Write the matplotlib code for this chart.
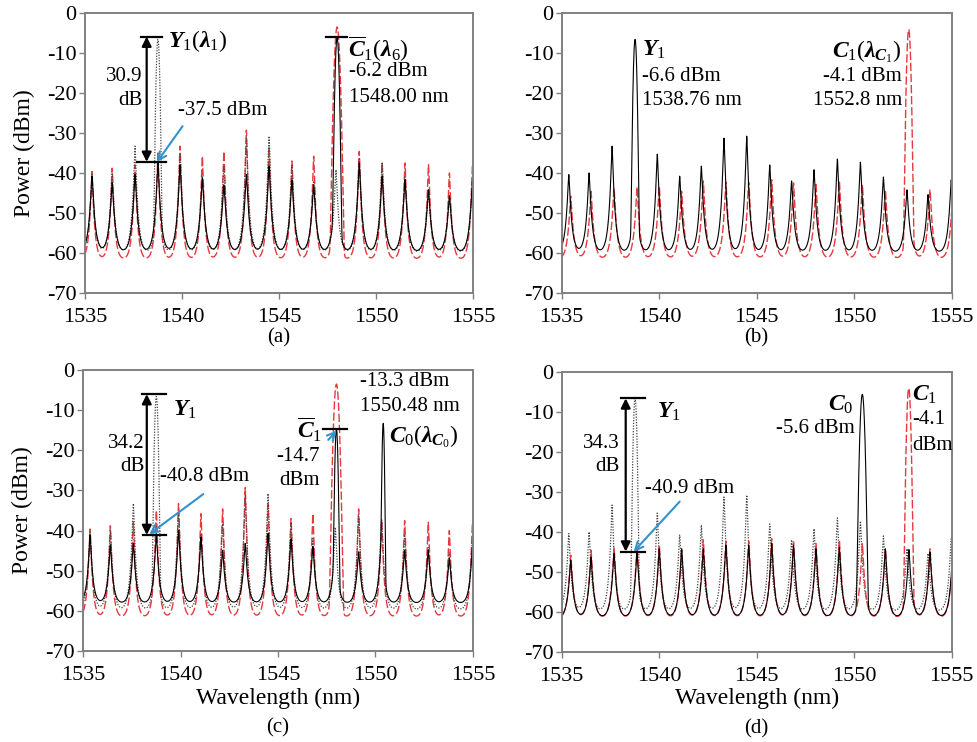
import numpy as np
import matplotlib
matplotlib.use('Agg')
import matplotlib.pyplot as plt

plt.rcParams['font.family'] = ['Liberation Serif', 'DejaVu Serif']
plt.rcParams['mathtext.fontset'] = 'custom'
plt.rcParams['mathtext.rm'] = 'Liberation Serif'
plt.rcParams['mathtext.it'] = 'Liberation Serif:italic:bold'
plt.rcParams['mathtext.bf'] = 'Liberation Serif:bold'
plt.rcParams['axes.unicode_minus'] = False

# mode comb of the Y1 spectrum (nm)
y1_wl = [1535.36, 1536.40, 1537.58, 1538.76, 1539.90, 1541.05, 1542.16, 1543.32, 1544.49,
         1545.67, 1546.79, 1547.94, 1549.14, 1550.32, 1551.50, 1552.71, 1553.79, 1554.98]
c1_shift = 0.10  # C1 comb sits a little to the right

# peak power of each cavity mode (dBm)
y1_modes = [-40.4, -40.0, -33.3, -43.0, -35.3, -40.8, -38.3, -31.3, -30.8,
            -38.0, -42.0, -39.2, -36.5, -37.3, -41.0, -44.2, -45.4, -41.7]
c1_modes = [-45.8, -44.6, -43.8, -43.5, -43.3, -44.6, -42.0, -42.3, -42.3,
            -41.7, -42.5, -42.9, -42.0, -42.9, -44.2, -44.0, -44.2, -43.0]
pump_a_modes = [-39.6, -38.8, -38.0, -35.0, -33.3, -35.8, -34.6, -29.3, -33.5,
                -37.0, -35.8, -40.0, -34.6, -37.5, -37.5, -37.9, -40.0, -38.0]
out_a_modes = [-40.8, -42.5, -40.4, -37.5, -38.0, -41.3, -43.0, -40.4, -38.3,
               -41.7, -43.0, -40.0, -37.5, -40.8, -41.7, -44.2, -45.8, -42.0]
out_c_modes = [-41.1, -43.6, -43.2, -40.8, -40.0, -41.6, -44.9, -43.2, -40.7,
               -42.0, -44.0, -42.0, -45.3, -40.0, -44.9, -44.9, -47.0, -44.0]
out_d_modes = [-47.0, -46.3, -45.4, -45.0, -44.2, -44.2, -44.2, -43.3, -43.3,
               -42.9, -43.3, -44.2, -43.8, -44.0, -44.2, -44.4, -45.0, -43.0]

# lasing lines: (wavelength nm, peak dBm, linewidth nm)
y1_lines = [(1538.76, -6.6, 0.045)]
c1_lines = [(1552.80, -4.1, 0.052)]
pump_a_lines = [(1548.00, -3.5, 0.07)]
out_a_lines = [(1548.00, -6.2, 0.05)]
out_c_lines = [(1548.00, -14.7, 0.04), (1550.40, -13.3, 0.03)]
out_d_lines = [(1550.42, -5.6, 0.06)]

x = np.linspace(1535, 1555, 8001)


def spectrum(shift, modes, lines, s, floor):
    # cusp-shaped cavity modes in dB on a noise floor, lasing lines added on top
    db = np.full_like(x, floor)
    for c, p in zip(y1_wl, modes):
        d = np.sqrt((x - c - shift) ** 2 + 0.015 ** 2) - 0.015
        db += (p - floor) * np.exp(-d / s)
    lin = 10 ** (db / 10)
    for c, p, w in lines:
        lin += 10 ** (p / 10) * np.exp(-0.5 * ((x - c) / w) ** 2)
    return 10 * np.log10(lin)


y1 = spectrum(0.0, y1_modes, y1_lines, 0.15, -60.2)
c1 = spectrum(c1_shift, c1_modes, c1_lines, 0.15, -61.8)
pump_a = spectrum(0.0, pump_a_modes, pump_a_lines, 0.13, -61.8)
out_a = spectrum(0.0, out_a_modes, out_a_lines, 0.16, -60.2)
out_c = spectrum(0.0, out_c_modes, out_c_lines, 0.14, -58.3)
out_d = spectrum(c1_shift, out_d_modes, out_d_lines, 0.15, -61.6)

RED = '#e8383d'
BLUE = '#2f93cc'
dot = dict(color='#444444', lw=0.9, ls=(0, (1, 1.2)))
dash = dict(color=RED, lw=1.0, ls=(0, (6, 2)))
solid = dict(color='black', lw=0.8)
FS = 15


def setup(ax, tag, bottom_row=False, ylabel=False):
    ax.set_xlim(1535, 1555)
    ax.set_ylim(-70, 0)
    ax.set_xticks(range(1535, 1556, 5))
    ax.set_yticks(range(-70, 1, 10))
    ax.tick_params(direction='out', length=4, width=1, color='#808080', labelsize=16)
    ax.tick_params(axis='x', pad=7)
    ax.tick_params(axis='y', pad=2)
    for s in ax.spines.values():
        s.set_color('#808080')
        s.set_linewidth(1.4)
    if ylabel:
        ax.text(-0.155, 0.5, 'Power (dBm)', transform=ax.transAxes, rotation=90,
                ha='center', va='center', fontsize=17)
    if bottom_row:
        ax.text(0.5, -0.167, 'Wavelength (nm)', transform=ax.transAxes,
                ha='center', va='center', fontsize=17)
        ax.text(0.5, -0.274, tag, transform=ax.transAxes, ha='center', va='center', fontsize=15)
    else:
        ax.text(0.5, -0.16, tag, transform=ax.transAxes, ha='center', va='center', fontsize=15)


def gap_arrow(ax, xa, top, bot, tx0, tx1, bx0, bx1):
    ax.plot([tx0, tx1], [top, top], color='black', lw=1.6)
    ax.plot([bx0, bx1], [bot, bot], color='black', lw=1.6)
    ax.annotate('', xy=(xa, bot), xytext=(xa, top),
                arrowprops=dict(arrowstyle='<|-|>', color='black', lw=1.6,
                                mutation_scale=14, shrinkA=0, shrinkB=0))


def blue_arrow(ax, start, end):
    ax.annotate('', xy=end, xytext=start,
                arrowprops=dict(arrowstyle='->', color=BLUE, lw=1.5,
                                mutation_scale=14, shrinkA=0, shrinkB=0))


fig = plt.figure(figsize=(9.77, 7.42), dpi=100)
ax_a = fig.add_axes([0.087, 0.605, 0.397, 0.3775])
ax_b = fig.add_axes([0.575, 0.605, 0.399, 0.3775])
ax_c = fig.add_axes([0.085, 0.1226, 0.399, 0.3787])
ax_d = fig.add_axes([0.575, 0.1213, 0.399, 0.3774])

# (a)
ax_a.plot(x, pump_a, **dash)
ax_a.plot(x, y1, **dot)
ax_a.plot(x, out_a, **solid)
setup(ax_a, '(a)', ylabel=True)
gap_arrow(ax_a, 1538.18, -5.9, -37.2, 1537.89, 1538.96, 1537.7, 1539.17)
ax_a.text(1539.28, -7.0, r'$Y_1(\lambda_1)$', fontsize=17, va='center')
ax_a.text(1537.95, -15.9, '30.9', fontsize=FS, ha='right', va='center')
ax_a.text(1537.95, -21.8, 'dB', fontsize=FS, ha='right', va='center')
ax_a.text(1539.8, -24.3, '-37.5 dBm', fontsize=FS, va='center')
blue_arrow(ax_a, (1540.03, -28.3), (1538.72, -37.2))
ax_a.plot([1547.42, 1548.49], [-6.1, -6.1], color='black', lw=1.6)
ax_a.text(1548.55, -9.0, r'$\overline{C}_1(\lambda_6)$', fontsize=17, va='center')
ax_a.text(1548.6, -14.7, '-6.2 dBm', fontsize=FS, va='center')
ax_a.text(1548.6, -21.1, '1548.00 nm', fontsize=FS, va='center')

# (b)
ax_b.plot(x, c1, **dash)
ax_b.plot(x, y1, **solid)
setup(ax_b, '(b)')
ax_b.text(1539.1, -9.3, r'$Y_1$', fontsize=17, va='center')
ax_b.text(1539.1, -15.8, '-6.6 dBm', fontsize=FS, va='center')
ax_b.text(1539.1, -21.8, '1538.76 nm', fontsize=FS, va='center')
ax_b.text(1552.45, -9.7, r'$C_1(\lambda_{C_1})$', fontsize=17, ha='right', va='center')
ax_b.text(1552.45, -15.8, '-4.1 dBm', fontsize=FS, ha='right', va='center')
ax_b.text(1552.45, -21.8, '1552.8 nm', fontsize=FS, ha='right', va='center')

# (c)
ax_c.plot(x, pump_a, **dash)
ax_c.plot(x, y1, **dot)
ax_c.plot(x, out_c, **solid)
setup(ax_c, '(c)', bottom_row=True, ylabel=True)
gap_arrow(ax_c, 1538.27, -6.0, -41.1, 1538.0, 1539.24, 1538.09, 1539.24)
ax_c.text(1539.63, -10.0, r'$Y_1$', fontsize=17, va='center')
ax_c.text(1538.15, -18.3, '34.2', fontsize=FS, ha='right', va='center')
ax_c.text(1538.15, -24.1, 'dB', fontsize=FS, ha='right', va='center')
ax_c.text(1538.95, -26.6, '-40.8 dBm', fontsize=FS, va='center')
blue_arrow(ax_c, (1541.17, -30.9), (1538.4, -40.9))
ax_c.plot([1547.29, 1548.52], [-14.6, -14.6], color='black', lw=1.6)
ax_c.text(1547.25, -14.9, r'$\overline{C}_1$', fontsize=17, ha='right', va='center')
blue_arrow(ax_c, (1547.58, -17.4), (1548.01, -15.1))
ax_c.text(1546.05, -21.6, '-14.7', fontsize=FS, ha='center', va='center')
ax_c.text(1546.1, -27.4, 'dBm', fontsize=FS, ha='center', va='center')
ax_c.text(1549.2, -2.9, '-13.3 dBm', fontsize=FS, va='center')
ax_c.text(1549.2, -9.1, '1550.48 nm', fontsize=FS, va='center')
ax_c.text(1550.71, -16.6, r'$C_0(\lambda_{C_0})$', fontsize=17, va='center')

# (d)
ax_d.plot(x, y1, **dot)
ax_d.plot(x, c1, **dash)
ax_d.plot(x, out_d, **solid)
setup(ax_d, '(d)', bottom_row=True)
gap_arrow(ax_d, 1538.28, -6.6, -44.9, 1538.06, 1539.29, 1538.06, 1539.26)
ax_d.text(1539.86, -9.9, r'$Y_1$', fontsize=17, va='center')
ax_d.text(1537.97, -17.8, '34.3', fontsize=FS, ha='right', va='center')
ax_d.text(1537.97, -23.7, 'dB', fontsize=FS, ha='right', va='center')
ax_d.text(1539.26, -29.1, '-40.9 dBm', fontsize=FS, va='center')
blue_arrow(ax_d, (1541.05, -32.4), (1538.69, -44.9))
ax_d.text(1549.94, -8.3, r'$C_0$', fontsize=17, ha='right', va='center')
ax_d.text(1550.03, -14.1, '-5.6 dBm', fontsize=FS, ha='right', va='center')
ax_d.text(1552.98, -5.8, r'$C_1$', fontsize=17, va='center')
ax_d.text(1553.0, -12.0, '-4.1', fontsize=FS, va='center')
ax_d.text(1552.98, -18.3, 'dBm', fontsize=FS, va='center')

fig.savefig('out.png', dpi=100)
